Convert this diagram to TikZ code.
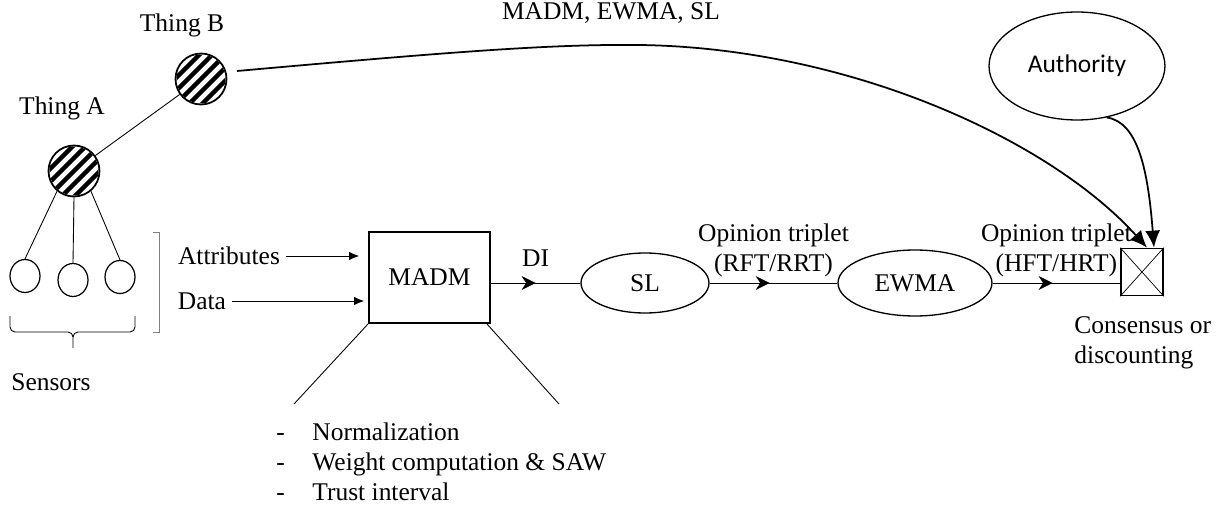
\documentclass[tikz,border=0pt]{standalone}
\usepackage{fontspec}
\setmainfont{Liberation Serif}
\newfontfamily\authfont{Carlito}
\usetikzlibrary{positioning}
\usetikzlibrary{arrows.meta}
\usetikzlibrary{decorations.markings}
\usetikzlibrary{shapes.geometric}

\tikzset{
  thing/.style = {circle, draw, line width=1pt, minimum size=1.02cm, inner sep=0pt},
  sensor/.style = {ellipse, draw, line width=0.7pt, minimum width=0.6cm, minimum height=0.66cm, inner sep=0pt},
  proc/.style = {ellipse, draw, line width=0.75pt, inner sep=0pt},
  midarrow/.style = {postaction={decorate}, decoration={markings,
      mark=at position #1 with {\arrow{Stealth[length=0.28cm,width=0.28cm]}}}},
  bigtip/.style = {line width=1pt, -{Latex[length=0.34cm,width=0.3cm]}},
}

\begin{document}
\begin{tikzpicture}[x=0.02cm, y=-0.02cm, line width=0.5pt,
    font=\fontsize{14.5}{17}\selectfont, >={Latex[length=0.2cm,width=0.17cm]}]

    \useasboundingbox (0,0) rectangle (1225,510);

    % things
    \node[thing] (tA) at (74,171) {};
    \node[thing] (tB) at (201,79) {};
    \node (labA) at (62,108) {Thing A};
    \node (labB) at (182,25) {Thing B};
    \foreach \t in {tA,tB} {
        \begin{scope}[shift={(\t.center)}]
            \clip (0,0) circle (24.5);
            \foreach \k in {-65,-52,...,65}
                \draw[line width=2.6pt] (\k-40,40) -- ++(80,-80);
        \end{scope}
    }
    \draw (tA) -- (tB);

    % sensors
    \node[sensor] (s1) at (25,276) {};
    \node[sensor] (s2) at (73,280) {};
    \node[sensor] (s3) at (120,277) {};
    \draw (tA.-130) -- (s1.north);
    \draw (tA.-90) -- (s2.north);
    \draw (tA.-50) -- (s3.north);

    \draw (10,316) -- (10,327) to[out=-90,in=180] (15,332) -- (68,332) to[out=0,in=90] (73,337) -- (73,348);
    \draw (73,337) to[out=90,in=180] (78,332) -- (130,332) to[out=0,in=-90] (135,327) -- (135,316);
    \node (sens) at (51,382) {Sensors};
    \draw[gray] (153,232) -- (159,232) -- (159,332) -- (153,332);

    % MADM
    \node (attr) at (229,256) {Attributes};
    \node (data) at (202,301) {Data};
    \node[draw, line width=1pt, minimum width=2.42cm, minimum height=1.82cm] (madm) at (429.5,277.5) {MADM};
    \draw[->, shorten >=0.18cm] (attr.east) -- (attr.east -| madm.west);
    \draw[->, shorten >=0.08cm] (data.east) -- (data.east -| madm.west);

    \coordinate (bl) at (294,404);
    \coordinate (br) at (559,404);
    \draw (madm.south west) -- (bl);
    \draw ([xshift=-0.08cm]madm.south east) -- (br);

    \node[anchor=north west, inner sep=0pt] (steps) at (276,419) {%
        \begin{tabular}{@{}l@{\hspace{0.55cm}}l@{}}
            - & Normalization\\
            - & Weight computation \& SAW\\
            - & Trust interval
        \end{tabular}};

    % chain
    \node[proc, minimum width=2.56cm, minimum height=1.2cm] (sl) at (645,283) {SL};
    \node[proc, minimum width=3.08cm, minimum height=1.32cm] (ewma) at (915,283) {EWMA};
    \node[draw, line width=1pt, minimum width=0.84cm, minimum height=0.94cm, inner sep=0pt] (cons) at (1142,272) {};
    \draw[line width=0.4pt] (cons.north west) -- (cons.south east) (cons.north east) -- (cons.south west);

    \draw[midarrow=0.5] (madm.east |- sl.west) -- node[above, yshift=0.2cm] {DI} (sl.west);
    \draw[midarrow=0.47] (sl) -- node[above, align=center] {Opinion triplet\\(RFT/RRT)} (ewma);
    \draw[midarrow=0.47] (ewma) -- node[above, align=center] {Opinion triplet\\(HFT/HRT)} (cons.west |- ewma);
    \node[anchor=north west, align=left, inner sep=0pt] (conslab) at (1074,316) {Consensus or\\discounting};

    % authority and feedback
    \node[proc, minimum width=3.52cm, minimum height=2.16cm, font=\authfont\fontsize{14.5}{17}\selectfont] (auth) at (1077,66) {Authority};
    \draw[bigtip] (auth.-60) .. controls (1138,122) and (1148,170) .. ([xshift=0.24cm]cons.north);

    \coordinate (bout) at (237,71);
    \draw[bigtip] (bout) .. controls (450,52) and (550,44) .. (640,45)
        .. controls (850,48) and (1050,140) .. ([xshift=0.1cm]cons.north);
    \node (fbl) at (611,13) {MADM, EWMA, SL};

\end{tikzpicture}
\end{document}
